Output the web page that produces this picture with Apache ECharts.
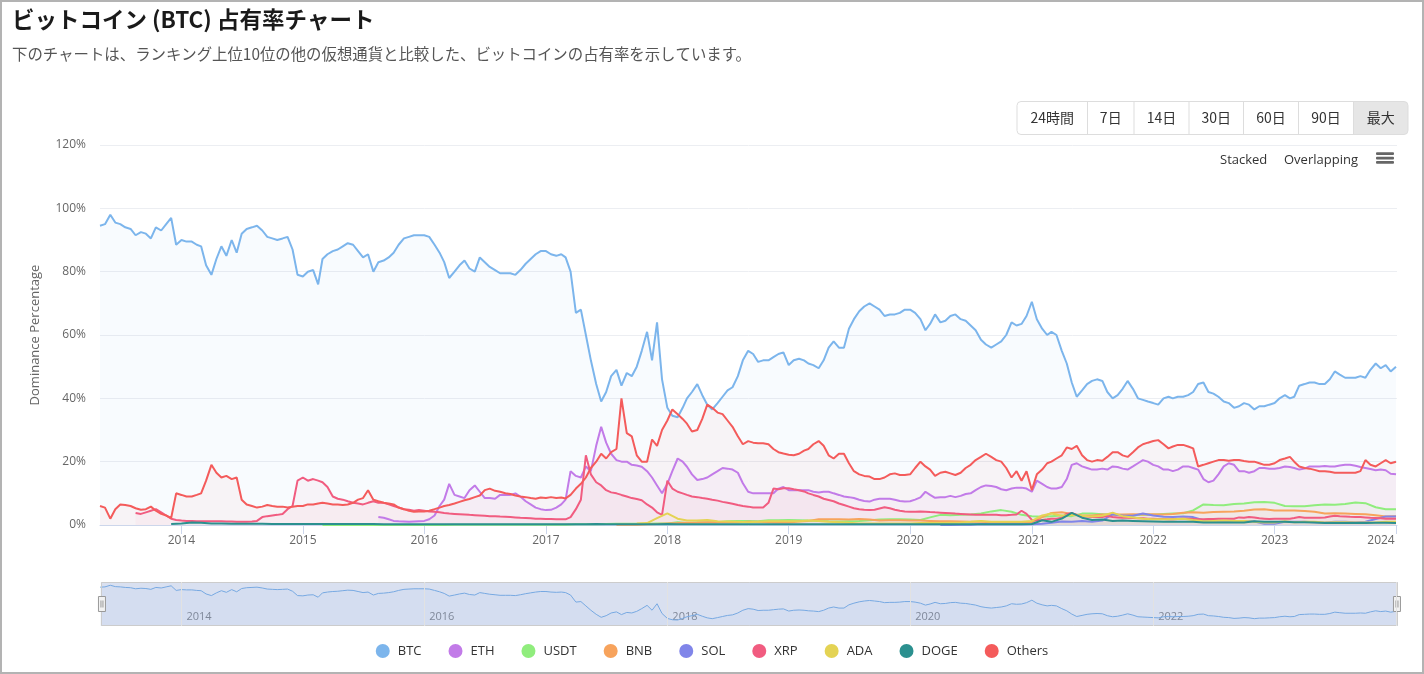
<!DOCTYPE html>
<html><head><meta charset="utf-8">
<script src="https://cdn.jsdelivr.net/npm/echarts@6/dist/echarts.min.js"></script>
<style>html,body{margin:0;padding:0;background:#fff}#c{width:1420px;height:670px;border:2px solid #b3b3b3}</style>
</head><body><div id="c"></div><script>
// ---- categories / tick labels ----
const seriesNames = ['BTC', 'ETH', 'USDT', 'BNB', 'SOL', 'XRP', 'ADA', 'DOGE', 'Others'];
const rangeButtons = ['24時間', '7日', '14日', '30日', '60日', '90日', '最大'];
const yearTickLabels = ['2014', '2015', '2016', '2017', '2018', '2019', '2020', '2021', '2022', '2023', '2024'];
const navGridYears = ['2014', '2016', '2018', '2020', '2022', '2024'];
const navLabelYears = ['2014', '2016', '2018', '2020', '2022'];
const firstDate = '2013-05-01';
const lastDate = '2024-01-04';
const halfMonthCount = 257;   // 1st & 16th of each month, 2013-05-01 .. 2024-01-01
const monthCount = 129;       // 1st of each month, 2013-05 .. 2024-01

// ---- semi-monthly series (%), one row per year ----
const btc = [
94.5,95,98,95.5,95,94,93.5,91.5,92.5,92,90.5,94,93,95,97,88.5,
90,89.5,89.5,88.5,88,82,79,84,88,85,90,86,92,93.5,94,94.5,93,91,90.5,90,90.5,91,87,79,
78.5,80,80.5,76,84,85.5,86.5,87,88,89,88.5,86.5,84.5,85.5,80,83,83.5,84.5,86,88.5,90.5,91,91.5,91.5,
91.5,91,88.5,86,83,78,80,82,83.5,81,80,84.5,83,81.5,80.5,79.5,79.5,79.5,79,80.5,82.5,84,85.5,86.5,
86.5,85.5,85,85.5,84.5,80,67,68,60,52,44.5,39,42,47,49,44,48,47,50,55,61,52,64,46,
37,34.5,34,37,40,42,44.5,41,38,36.5,38.5,40.5,42.5,43.5,47,52,55,54,51.5,52,52,53,54,54.5,
50.5,52,52.5,52,51,50.5,49.5,52,56,58,56,56,62,65,67.5,69,70,69,68,66,66.5,66.5,67,68,
68,67,65,61.5,63.5,66.5,64,64.5,66,66.5,65,64.5,63,61.5,58.5,57,56,57,58,60,64,63,63.5,66,
70.5,65,62,60,61,60,55,51,45,40.5,42.5,44.5,45.5,46,45.5,42,40,41,43,45.5,43,40,39.5,39,
38.5,38,40,40.5,40,40.5,40.5,41,42,44.5,45,42,41.5,40.5,39,38.5,37,37.5,38.5,38,36.5,37.5,37.5,38,
38.5,40,41,40,40.5,44,44.5,45,45,44.5,44.5,46,48.5,47.5,46.5,46.5,46.5,47,46.5,49,51,49.5,50.5,48.5,
50];
const eth = [
null,null,null,null,null,null,null,null,null,null,null,null,null,null,null,null,
null,null,null,null,null,null,null,null,null,null,null,null,null,null,null,null,null,null,null,null,null,null,null,null,
null,null,null,null,null,null,null,null,null,null,null,null,null,null,null,2.5,2.3,1.8,1.3,1.2,1.1,1.0,1.1,1.2,
1.3,1.8,3,6,8,13,9.5,9,8.5,11,12.5,10.5,8.5,8.5,8.3,9.5,9.5,9.5,10,9,7.5,6.5,5.5,5,
4.7,4.8,5.5,6.5,8,17,15.5,15,18.5,17,25,31,26,22.5,20.5,20,20,19,18.8,18.4,17,15,12.5,10,
13,17,21,20,18.4,16,14.2,14.5,15,16,17,18,17.8,17.5,16.5,13.2,10.5,10,10,10,10,10,11.5,12,
11,11,11,11,11,10.5,10.3,10.5,10.5,10,9.5,9,8.8,8.5,8,7.6,7.4,8,8.3,8.3,8.3,8,7.6,7.4,
7.5,8,8.7,10.5,9.5,8.6,8.8,8.8,9.2,8.8,9.2,9.8,10,11,12,12.5,12.3,12,11.3,11,11.5,11.8,11.8,11.5,
10.5,14,13,12,11.5,11.5,12,14.5,19,19.5,18.5,18,17.5,17.5,17.8,17.5,18.5,18.3,17.8,17.5,18.5,19.5,20.5,20,
19,18.5,17.5,17.5,17,17.5,18.5,18.5,18,17.5,14.5,13.5,14,16,18.5,19.5,19,17,17,16.5,17,18,18,17.8,
17.8,18,18.5,18.3,18,17.5,17.8,18.5,18.5,18.5,18.6,18.5,18.5,18.8,19,19,18.7,18.3,18,17.7,17.3,17.5,17.3,16.2,
16];
const xrp = [
null,null,null,null,null,null,null,3.8,3.5,4,4.5,5,4,3,2,1.6,
1.4,1.3,1.3,1.2,1.2,1.2,1.2,1.2,1.2,1.1,1.1,1.0,1.0,1.0,1.1,1.3,2.5,2.8,3,3.2,3.5,5,6,14,
15,14,14.5,14,13.5,12,9,8.3,8,7.5,7,6.8,6.5,7,7.5,7,7,6.5,6,5.5,5,4.8,4.5,4.7,
4.5,4.3,4.2,4,3.8,3.6,3.5,3.4,3.3,3.2,3.1,3.0,2.9,2.8,2.8,2.7,2.6,2.5,2.4,2.3,2.2,2.1,2.0,2.0,
1.9,1.9,1.8,1.8,1.8,2.5,5,8,22,16,13.5,12.5,11,10.3,10,9.5,9,8.5,8.2,7.8,6.5,5.5,4,3.2,
14,11.5,10.5,10,9.5,9,8.8,8.5,8.3,8,7.7,7.3,7,6.7,6.3,6,5.8,5.5,5.5,5.5,7,11.5,11.3,11.6,
11.6,11.3,11,10.6,10,9.5,9,8.3,7.9,7.5,6.8,6.3,5.8,5.3,5,4.8,4.7,4.8,5.2,5.6,5.3,4.8,4.5,4.3,
4.2,4.2,4.3,4.2,4.1,4,3.9,3.8,3.7,3.6,3.5,3.4,3.3,3.2,3.2,3.2,3.2,3.2,3.1,3.1,3.2,3.3,4.5,3.5,
1.6,1.5,1.6,1.8,2.0,2.0,2.3,3.5,3.8,3.2,2.8,2.7,2.5,2.5,2.5,2.8,2.5,2.4,2.3,2.3,2.2,2.1,2.1,2.0,
2.0,1.9,1.9,1.8,1.8,1.9,2.0,2.0,1.9,1.8,1.8,1.9,1.9,2.0,2.0,2.0,2.0,2.4,2.3,2.5,2.4,2.1,2.0,1.9,
2.0,2.0,2.0,2.0,2.2,2.5,2.3,2.3,2.3,2.3,2.4,2.7,2.9,2.8,2.7,2.6,2.5,2.5,2.4,2.3,2.2,2.1,2.0,2.0,
2.0];
const others = [
6,5.5,2,5,6.5,6.3,6,5.3,4.8,5,5.8,4.5,3.5,3,2.2,10,
9.5,9,9,9.5,10,14,19,16.5,15,15.5,14.5,15,8,6.5,6,5.5,5.8,6.3,6,5.8,5.8,5.5,5.8,6,
6,6.5,6.5,6.8,7,6.8,6.5,6.5,6.3,6.5,7,8,8.5,11,8,7.5,7,6.8,6.5,5.5,5,4.5,4.2,4.3,
4.3,4.5,5,5.5,6,6.3,6.8,7.3,7.8,8.2,8.8,9.3,11,11.5,10.8,10.5,10,9.8,9.3,9,8.8,8.5,8.3,8.7,
8.5,8.8,8.5,8.7,8.4,9.5,11.5,13,15,18,20,22.5,21,23,24,40,29,28,22,20,20,27,25,30,
33,36.5,35,33.5,32,29.5,30,33.5,38,37,35.5,35,33,31,28,25.5,26.5,26,25.8,25.8,25.5,24,23,22.6,
22.2,22,22.5,23.5,24,25.5,26.5,25,22,21,22.5,22.5,19.5,17,16,15.5,15.3,14.5,14.5,15,16,16.3,15.8,15.8,
16,18,20,18.5,17.5,15.5,16.5,16.8,16.3,15.8,16.5,18,19,20.5,21.5,22.5,21.5,20.5,20,18,15,17,14,17,
11,16,17.5,19.5,20,21,22,24.5,24,25,22,20.5,20,20.5,20.3,21.5,23,23,22,21.5,23,24.5,25.5,26,
26.5,26.8,25.5,24.2,24.8,25.3,25.3,24.8,24.2,18.5,19,19.5,20,20.5,20.5,20.3,20.5,20.5,20.2,20,20,19.5,19,19,
19.5,20.5,21,21.5,20,18.5,18,17.8,17.4,17,17,16.8,16.5,16.5,16.5,16.5,16.5,17,20.5,19,18.5,19.5,20.5,19.5,
20];

// ---- monthly series (%), one row per year ----
const usdt = [
null,null,null,null,null,null,null,null,
null,null,null,null,null,null,null,null,null,null,null,null,
null,null,0.01,0.01,0.01,0.01,0.01,0.01,0.01,0.01,0.01,0.01,
0.02,0.02,0.03,0.05,0.05,0.05,0.05,0.1,0.1,0.1,0.1,0.1,
0.1,0.1,0.1,0.2,0.2,0.2,0.3,0.4,0.4,0.4,0.4,0.5,
0.5,0.9,0.6,0.8,0.8,0.9,1.2,1.3,1.3,1.2,1.5,1.5,
1.6,1.5,1.4,1.3,1.2,1.1,1.2,1.3,1.5,1.7,1.8,1.8,
1.7,1.6,2.4,3.2,3.1,3.2,3.3,3.6,4.3,4.7,4.2,3.2,
2.8,2.6,2.8,3.0,2.8,3.6,3.6,3.4,3.2,3.0,3.0,3.3,
3.2,3.5,3.6,3.7,4.6,6.5,6.3,6.2,6.6,6.8,7.2,7.3,
7.0,6.0,5.9,5.9,6.2,6.5,6.4,6.6,7.1,6.9,5.6,5.0,
5.0];
const bnb = [
null,null,null,null,null,null,null,null,
null,null,null,null,null,null,null,null,null,null,null,null,
null,null,null,null,null,null,null,null,null,null,null,null,
null,null,null,null,null,null,null,null,null,null,null,null,
null,null,null,null,null,null,null,0.1,0.1,0.1,0.2,0.3,
0.5,0.6,0.7,0.8,0.9,0.9,0.9,0.9,1.0,1.0,0.9,0.8,
0.8,1.1,1.3,1.8,1.8,1.8,1.7,1.9,1.7,1.4,1.5,1.5,
1.4,1.4,1.3,1.2,1.2,1.1,1.0,1.0,0.9,0.9,0.8,0.8,
0.9,2.5,3.8,4.0,3.5,3.0,3.0,3.3,3.3,3.3,3.4,3.3,
3.4,3.3,3.5,3.9,4.0,3.9,4.1,4.2,4.3,4.5,4.9,5.0,
4.6,4.6,4.6,4.4,4.2,3.6,3.7,3.6,3.5,3.4,3.1,2.7,
2.8];
const sol = [
null,null,null,null,null,null,null,null,
null,null,null,null,null,null,null,null,null,null,null,null,
null,null,null,null,null,null,null,null,null,null,null,null,
null,null,null,null,null,null,null,null,null,null,null,null,
null,null,null,null,null,null,null,null,null,null,null,null,
null,null,null,null,null,null,null,null,null,null,null,null,
null,null,null,null,null,null,null,null,null,null,null,null,
null,null,null,0.01,0.02,0.05,0.1,0.3,0.2,0.2,0.2,0.2,
0.2,0.4,0.7,1.1,1.0,1.3,1.0,1.4,3.4,3.0,2.9,3.6,
3.0,2.6,2.5,2.7,2.5,1.5,1.4,1.3,1.2,1.3,1.1,0.4,
0.4,1.0,1.0,1.0,0.9,0.8,1.0,1.0,0.9,1.0,1.9,2.7,
2.7];
const ada = [
null,null,null,null,null,null,null,null,
null,null,null,null,null,null,null,null,null,null,null,null,
null,null,null,null,null,null,null,null,null,null,null,null,
null,null,null,null,null,null,null,null,null,null,null,null,
null,null,null,null,null,null,null,null,null,0.5,0.6,2.2,
3.7,2.0,1.4,1.4,1.6,1.2,1.1,1.0,0.9,1.0,1.2,1.2,
1.2,1.2,1.4,1.3,1.0,0.9,0.7,0.5,0.5,0.5,0.5,0.5,
0.5,0.6,0.6,0.6,0.7,0.8,1.0,1.3,1.0,1.0,1.0,1.0,
1.3,3.0,3.6,2.9,3.2,2.9,2.7,2.9,3.9,2.8,2.4,2.0,
1.8,1.8,1.8,2.0,1.6,1.2,1.3,1.4,1.3,1.3,1.0,0.8,
0.8,1.2,0.9,1.0,1.0,0.8,0.9,0.9,0.8,0.8,0.8,1.0,
1.0];
const doge = [
null,null,null,null,null,null,null,0.3,
0.5,0.8,0.7,0.5,0.5,0.4,0.4,0.4,0.4,0.3,0.3,0.3,
0.3,0.3,0.3,0.3,0.3,0.3,0.3,0.3,0.2,0.2,0.2,0.2,
0.2,0.2,0.2,0.2,0.2,0.2,0.2,0.2,0.2,0.2,0.2,0.2,
0.2,0.2,0.2,0.2,0.2,0.3,0.2,0.2,0.2,0.2,0.2,0.2,
0.3,0.2,0.2,0.2,0.2,0.2,0.2,0.2,0.2,0.2,0.2,0.2,
0.2,0.2,0.2,0.2,0.2,0.2,0.2,0.2,0.2,0.2,0.2,0.2,
0.2,0.2,0.2,0.2,0.2,0.2,0.2,0.2,0.2,0.2,0.2,0.2,
0.3,1.5,1.0,2.0,3.8,2.3,1.6,1.7,1.3,1.4,1.3,1.2,
1.1,1.0,1.0,1.0,1.0,0.8,0.8,0.8,0.8,0.8,1.2,1.0,
1.0,1.0,0.9,0.9,0.8,0.6,0.6,0.6,0.6,0.6,0.7,0.7,
0.6];

// ---- styling ----
const colors = {BTC:'#7cb5ec', ETH:'#c27be8', USDT:'#90ed7d', BNB:'#f7a35c', SOL:'#8085e9',
  XRP:'#f15c80', ADA:'#e4d354', DOGE:'#2b908f', Others:'#f45b5b'};
const FONT = '"Open Sans", "Noto Sans CJK JP", sans-serif';
const JP = '"Noto Sans CJK JP", "Open Sans", sans-serif';

function buildDates(y, m, count, days) {
  const out = [];
  while (out.length < count) {
    for (const d of days) {
      if (out.length < count) out.push(y + '-' + String(m).padStart(2, '0') + '-' + String(d).padStart(2, '0'));
    }
    m++; if (m > 12) { m = 1; y++; }
  }
  return out;
}
const halfMonthDates = buildDates(2013, 5, halfMonthCount, [1, 16]);
const monthDates = buildDates(2013, 5, monthCount, [1]);
const pair = (dates, vals) => vals.map((v, i) => [dates[i], v]);

const seriesData = {
  BTC: pair(halfMonthDates, btc), ETH: pair(halfMonthDates, eth), USDT: pair(monthDates, usdt),
  BNB: pair(monthDates, bnb), SOL: pair(monthDates, sol), XRP: pair(halfMonthDates, xrp),
  ADA: pair(monthDates, ada), DOGE: pair(monthDates, doge), Others: pair(halfMonthDates, others)
};

const series = seriesNames.map(n => ({
  name: n, type: 'line', data: seriesData[n], showSymbol: false, symbol: 'none',
  color: colors[n], lineStyle: {width: 2, color: colors[n]},
  areaStyle: {color: colors[n], opacity: 0.05}, emphasis: {disabled: true}, silent: true
}));
series.push({
  name: 'navigator', type: 'line', xAxisIndex: 1, yAxisIndex: 1, data: seriesData.BTC,
  showSymbol: false, symbol: 'none', lineStyle: {width: 1, color: '#7cb5ec'},
  areaStyle: {color: '#7cb5ec', opacity: 0.05}, silent: true, emphasis: {disabled: true},
  markLine: {silent: true, symbol: ['none', 'none'], label: {show: false},
    lineStyle: {color: '#e2e2e2', type: 'solid', width: 1},
    data: navGridYears.map(y => ({xAxis: y + '-01-01'}))}
});

// buttons (chart coordinates)
const btnEdges = [1015, 1085.5, 1132, 1187, 1241.5, 1296.5, 1351.5, 1406];
const btnTop = 99.5, btnH = 33;
const graphics = [
  {type: 'text', left: 10, top: 6, style: {text: 'ビットコイン (BTC) 占有率チャート', font: 'bold 22.5px ' + JP, fill: '#1a1a1a'}},
  {type: 'text', left: 10, top: 44, style: {text: '下のチャートは、ランキング上位10位の他の仮想通貨と比較した、ビットコインの占有率を示しています。', font: '15.4px ' + JP, fill: '#555'}},
  {type: 'rect', shape: {x: btnEdges[6], y: btnTop, width: btnEdges[7] - btnEdges[6], height: btnH, r: [0, 4, 4, 0]}, style: {fill: '#e6e6e6'}},
  {type: 'rect', shape: {x: btnEdges[0], y: btnTop, width: btnEdges[7] - btnEdges[0], height: btnH, r: 4}, style: {fill: 'none', stroke: '#dddddd', lineWidth: 1}}
];
for (let i = 1; i < 7; i++) {
  graphics.push({type: 'line', shape: {x1: btnEdges[i], y1: btnTop, x2: btnEdges[i], y2: btnTop + btnH}, style: {stroke: '#dddddd', lineWidth: 1}});
}
rangeButtons.forEach((t, i) => {
  graphics.push({type: 'text', x: (btnEdges[i] + btnEdges[i + 1]) / 2, y: btnTop + btnH / 2,
    style: {text: t, font: '14px ' + JP, fill: '#333', align: 'center', verticalAlign: 'middle', textAlign: 'center', textVerticalAlign: 'middle'}});
});
graphics.push(
  {type: 'text', x: 1218, y: 158, style: {text: 'Stacked', font: '13px ' + FONT, fill: '#333', verticalAlign: 'middle', textVerticalAlign: 'middle'}},
  {type: 'text', x: 1282, y: 158, style: {text: 'Overlapping', font: '13px ' + FONT, fill: '#333', verticalAlign: 'middle', textVerticalAlign: 'middle'}}
);
[150.3, 154.7, 159].forEach(y => graphics.push({type: 'rect', shape: {x: 1374, y: y, width: 18, height: 2.7, r: 1}, style: {fill: '#666'}}));

const YEAR = 365.25 * 24 * 3600 * 1000;
const yearOf = v => String(new Date(v).getFullYear());
const chart = echarts.init(document.getElementById('c'), null, {renderer: 'canvas'});
chart.setOption({
  animation: false,
  textStyle: {fontFamily: FONT},
  graphic: graphics,
  grid: [
    {left: 98, right: 25, top: 143, bottom: 147},
    {left: 98, right: 25, top: 580, height: 44}
  ],
  xAxis: [
    {type: 'time', min: firstDate, max: lastDate, splitNumber: 10, minInterval: YEAR * 0.99, maxInterval: YEAR * 1.01,
      axisLine: {lineStyle: {color: '#ccd6eb'}}, axisTick: {show: true, length: 9, lineStyle: {color: '#ccd6eb'}},
      axisLabel: {
        formatter: v => {
          const y = yearOf(v);
          if (yearTickLabels.indexOf(y) < 0) return '';
          return y === yearTickLabels[yearTickLabels.length - 1] ? '{r|' + y + '}' : y;
        },
        rich: {r: {padding: [0, 30, 0, 0], color: '#666', fontSize: 12}},
        color: '#666', fontSize: 12, margin: 10, showMinLabel: false, showMaxLabel: false},
      splitLine: {show: false}},
    {type: 'time', gridIndex: 1, min: firstDate, max: lastDate, splitNumber: 10, minInterval: YEAR * 0.99, maxInterval: YEAR * 1.01,
      axisLine: {show: false}, axisTick: {show: false},
      axisLabel: {inside: true, formatter: v => (navLabelYears.indexOf(yearOf(v)) >= 0 ? yearOf(v) : ''),
        color: '#888', fontSize: 11, align: 'left', padding: [0, 0, 0, 5], margin: 4, showMinLabel: false, showMaxLabel: false},
      splitLine: {show: false}}
  ],
  yAxis: [
    {type: 'value', min: 0, max: 120, interval: 20, name: 'Dominance Percentage', nameLocation: 'middle', nameGap: 58,
      nameTextStyle: {color: '#666', fontSize: 13},
      axisLabel: {formatter: '{value}%', color: '#666', fontSize: 12, margin: 14},
      axisLine: {show: false}, axisTick: {show: false},
      splitLine: {lineStyle: {color: '#eceef2'}}},
    {type: 'value', gridIndex: 1, min: 23, max: 104, show: false}
  ],
  legend: {
    data: seriesNames, left: 'center', top: 637, icon: 'circle', itemWidth: 14, itemHeight: 14, itemGap: 27,
    textStyle: {color: '#333', fontSize: 13, fontFamily: FONT, padding: [0, 0, 0, 3]}
  },
  dataZoom: [{
    type: 'slider', xAxisIndex: 0, left: 98, right: 25, top: 580, height: 44, start: 0, end: 100,
    showDataShadow: false, showDetail: false, brushSelect: false, moveHandleSize: 0,
    backgroundColor: 'rgba(0,0,0,0)', fillerColor: 'rgba(102,133,194,0.25)', borderColor: '#cccccc',
    handleIcon: 'path://M0,0 L7,0 L7,15 L0,15 Z M2.5,4 L2.5,11 M4.5,4 L4.5,11', handleSize: 15,
    handleStyle: {color: '#f2f2f2', borderColor: '#999999', borderWidth: 1},
    moveHandleStyle: {opacity: 0}, emphasis: {handleStyle: {color: '#f2f2f2', borderColor: '#999999'}, moveHandleStyle: {opacity: 0}}
  }],
  series: series
});
</script></body></html>
